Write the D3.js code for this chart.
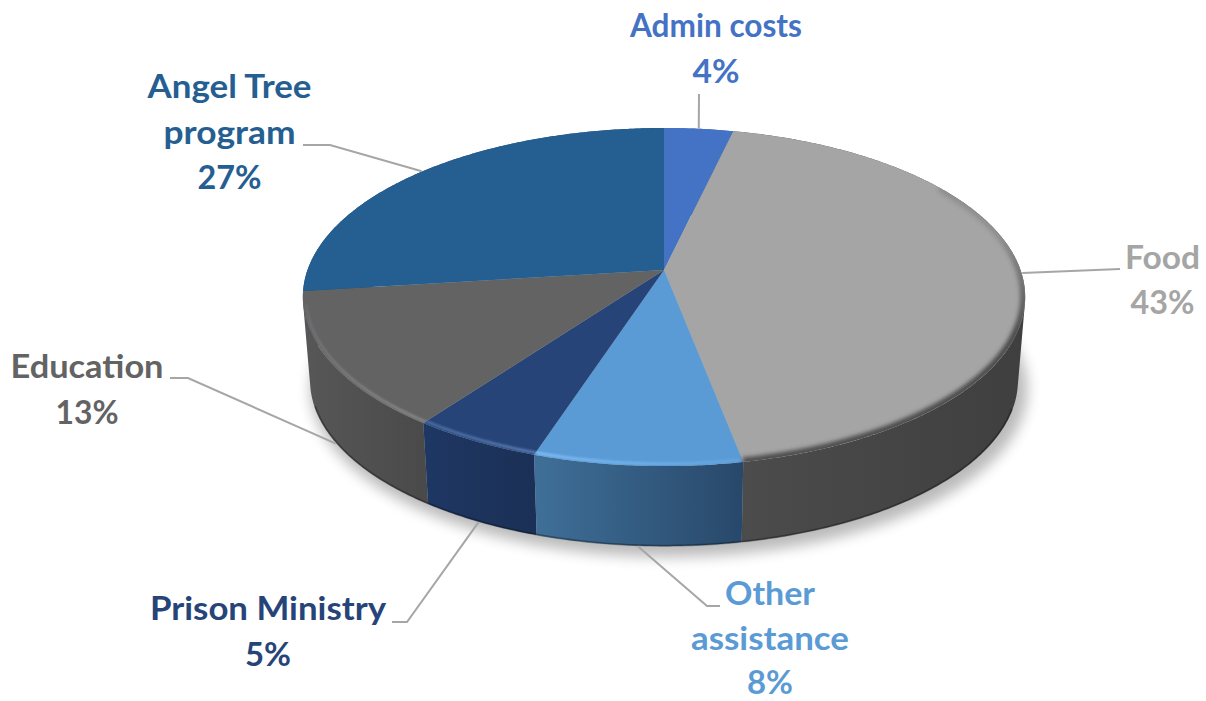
<!DOCTYPE html>
<html>
<head>
<meta charset="utf-8">
<script src="https://cdn.jsdelivr.net/npm/d3@7"></script>
<style>
  body { margin: 0; background: #fff; }
  text { font-family: Lato, "Open Sans", sans-serif; font-weight: 700; font-size: 33px; text-anchor: middle; }
</style>
</head>
<body>
<div id="main"></div>
<script>
// chart data
const categories = ["Admin costs", "Food", "Other assistance", "Prison Ministry", "Education", "Angel Tree program"];
const values = [3.6, 43.4, 8, 5, 13, 27];

// colours
const topColors = ["#4472c4", "#a5a5a5", "#5b9bd5", "#264478", "#636363", "#255e91"];
const textColors = ["#4472c4", "#a5a5a5", "#5b9bd5", "#264478", "#636363", "#255e91"];
const sideLeft = ["#3a62a8", "#4c4c4c", "#3f6f98", "#1e3763", "#575757", "#1f4f7c"];
const sideRight = ["#3a62a8", "#3f3f3f", "#28486a", "#1b3056", "#4a4a4a", "#1f4f7c"];

// label layout: lines of text, width of each line, baselines, elbow of leader
const labelLines = [["Admin costs", "4%"], ["Food", "43%"], ["Other", "assistance", "8%"],
                    ["Prison Ministry", "5%"], ["Education", "13%"], ["Angel Tree", "program", "27%"]];
const lineWidths = [[172, 47], [75, 64], [90, 158, 46], [236, 46], [153, 63], [164, 132, 64]];
const labelX = [716, 1162.5, 770, 268, 87, 229.5];
const labelY = [[37, 83], [269, 314], [605, 649.5, 694], [620, 666], [378, 424], [98, 144, 189]];
const leaderEnd = [[[699, 94]], [[1120, 269]], [[707, 606], [720, 606]], [[407, 622], [392, 622]],
                   [[188, 378], [170, 378]], [[330, 145], [303, 145]]];
const leaderOnTop = [true, true, false, false, false, true];

// perspective of the disc
const cx = 664, cy = 270, spanX = 356.5, spanY = 164.7, persp = 0.16;
const depth = 84, lowerScale = 0.98;

function project(angle, r, lower) {
    let u = Math.sin(angle) * r
    let w = -Math.cos(angle) * r
    let d = 1 - persp * w
    let s = lower ? lowerScale : 1
    return [cx + s * spanX * u / d, cy + (lower ? depth : 0) + s * spanY * w / d]
}

function arcPoints(a0, a1, r, lower) {
    let n = Math.max(2, Math.ceil((a1 - a0) / 0.01))
    return d3.range(n + 1).map(i => project(a0 + (a1 - a0) * i / n, r, lower))
}

function fade(id, x1, y1, x2, y2, color, from, to) {
    let grad = defs.append("linearGradient")
        .attr("id", id)
        .attr("gradientUnits", "userSpaceOnUse")
        .attr("x1", x1).attr("y1", y1)
        .attr("x2", x2).attr("y2", y2)
    grad.append("stop").attr("offset", 0).attr("stop-color", color).attr("stop-opacity", from)
    grad.append("stop").attr("offset", 1).attr("stop-color", color).attr("stop-opacity", to)
}

const line = d3.line()
const slices = d3.pie().sort(null)(values)

const svg = d3.select("#main").append("svg")
    .attr("width", 1206)
    .attr("height", 701)
    .style("display", "block")

const defs = svg.append("defs")
defs.append("filter").attr("id", "shadowBlur")
    .attr("x", "-10%").attr("y", "-10%").attr("width", "120%").attr("height", "120%")
    .append("feGaussianBlur").attr("stdDeviation", 7)
defs.append("filter").attr("id", "rimBlur")
    .attr("x", "-10%").attr("y", "-10%").attr("width", "120%").attr("height", "120%")
    .append("feGaussianBlur").attr("stdDeviation", 1.2)
defs.append("filter").attr("id", "foodBlur")
    .attr("x", "-10%").attr("y", "-10%").attr("width", "120%").attr("height", "120%")
    .append("feGaussianBlur").attr("stdDeviation", 2)
defs.append("clipPath").attr("id", "topClip")
    .append("path").attr("d", line(arcPoints(0, 2 * Math.PI, 1, false)) + "Z")

// soft shadow under the disc
svg.append("path")
    .attr("d", line(arcPoints(0, 2 * Math.PI, 1.012, true).map(p => [p[0] + 5, p[1] + 8])) + "Z")
    .attr("fill", "#000")
    .attr("opacity", 0.27)
    .attr("filter", "url(#shadowBlur)")

// gradients for the sides
slices.forEach((s, i) => {
    let xs = arcPoints(s.startAngle, s.endAngle, 1, false).map(p => p[0])
    let grad = defs.append("linearGradient")
        .attr("id", "side" + i)
        .attr("gradientUnits", "userSpaceOnUse")
        .attr("x1", d3.min(xs)).attr("x2", d3.max(xs))
        .attr("y1", 0).attr("y2", 0)
    grad.append("stop").attr("offset", 0).attr("stop-color", sideLeft[i])
    grad.append("stop").attr("offset", 1).attr("stop-color", sideRight[i])
})

// sides, back slices first. Built from thin quads so the wall fills out
// to the tangent between the upper and lower ellipse
function sidePath(s) {
    let up = arcPoints(s.startAngle, s.endAngle, 1, false)
    let low = arcPoints(s.startAngle, s.endAngle, 1, true)
    return d3.range(up.length - 1).map(k => {
        let quad = [up[k], up[k + 1], low[k + 1], low[k]]
        if (d3.polygonArea(quad) < 0) quad.reverse()
        return line(quad) + "Z"
    }).join("")
}

const sideOrder = [5, 0, 1, 4, 3, 2]
svg.append("g").selectAll("path")
    .data(sideOrder)
    .enter()
    .append("path")
    .attr("d", i => sidePath(slices[i]))
    .attr("fill", i => "url(#side" + i + ")")

// dark line along the bottom edge
svg.append("path")
    .attr("d", line(arcPoints(1.9, 4.4, 0.998, true)))
    .attr("fill", "none")
    .attr("stroke", "#000")
    .attr("stroke-opacity", 0.3)
    .attr("stroke-width", 2)

// top face
svg.append("g").selectAll("path")
    .data(slices)
    .enter()
    .append("path")
    .attr("d", s => line([[cx, cy]].concat(arcPoints(s.startAngle, s.endAngle, 1, false))) + "Z")
    .attr("fill", (s, i) => topColors[i])

// bevel on the front rim
fade("rimFood", 0, 235, 0, 330, "#4a4a4a", 0.25, 1)
fade("rimOther", 536, 0, 741, 0, "#80bffb", 1, 0.25)
fade("rimPrison", 427, 0, 536, 0, "#5f82b8", 0.7, 1)
fade("rimEducation", 0, 310, 0, 420, "#8a8a8a", 0.25, 1)

const rimGroup = svg.append("g").attr("clip-path", "url(#topClip)")
const rims = [
    { slice: 1, from: 1.0, id: "rimFood", r: 0.996, width: 7, blur: "foodBlur" },
    { slice: 2, from: null, id: "rimOther", r: 0.99, width: 2.5, blur: "rimBlur" },
    { slice: 3, from: null, id: "rimPrison", r: 0.99, width: 2.5, blur: "rimBlur" },
    { slice: 4, from: null, id: "rimEducation", r: 0.992, width: 2.5, blur: "rimBlur" }
]
rims.forEach(d => {
    let s = slices[d.slice]
    rimGroup.append("path")
        .attr("d", line(arcPoints(d.from || s.startAngle, s.endAngle - (d.slice == 4 ? 0.08 : 0), d.r, false)))
        .attr("fill", "none")
        .attr("stroke", "url(#" + d.id + ")")
        .attr("stroke-width", d.width)
        .attr("filter", "url(#" + d.blur + ")")
})

// leader lines
svg.append("g").selectAll("path")
    .data(slices)
    .enter()
    .append("path")
    .attr("d", (s, i) => {
        let mid = (s.startAngle + s.endAngle) / 2
        let start = project(mid, 1.002, !leaderOnTop[i])
        return line([start].concat(leaderEnd[i]))
    })
    .attr("fill", "none")
    .attr("stroke", "#a6a6a6")
    .attr("stroke-width", 2)

// labels
const labels = svg.append("g").selectAll("g")
    .data(categories)
    .enter()
    .append("g")
    .attr("fill", (d, i) => textColors[i])
labels.each(function (d, i) {
    labelLines[i].forEach((t, j) => {
        d3.select(this).append("text")
            .attr("x", labelX[i])
            .attr("y", labelY[i][j])
            .attr("textLength", lineWidths[i][j])
            .attr("lengthAdjust", "spacingAndGlyphs")
            .text(t)
    })
})
</script>
</body>
</html>
